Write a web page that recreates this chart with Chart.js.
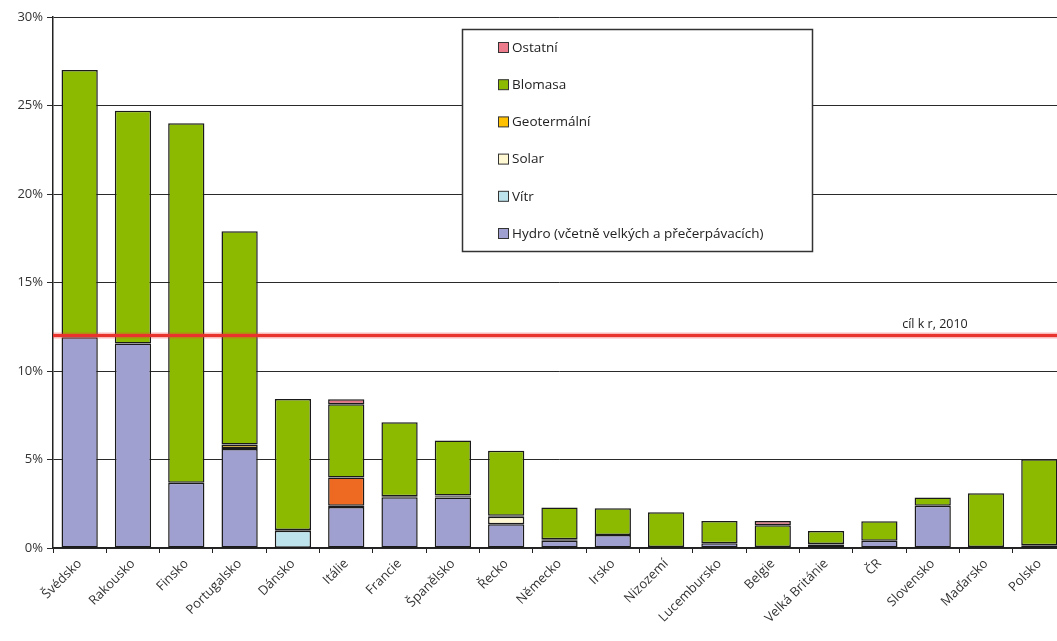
<!DOCTYPE html>
<html lang="cs">
<head>
<meta charset="UTF-8">
<title>Podíl obnovitelných zdrojů</title>
<script src="https://cdn.jsdelivr.net/npm/chart.js"></script>
<style>
  html, body { margin: 0; padding: 0; overflow: hidden; background: #fff; }
  #wrap { width: 1070px; height: 641px; }
</style>
</head>
<body>
<div id="wrap"><canvas id="oze" width="1070" height="641"></canvas></div>
<script>
// data (% podíl)
const countries = ['Švédsko', 'Rakousko', 'Finsko', 'Portugalsko', 'Dánsko', 'Itálie', 'Francie',
  'Španělsko', 'Řecko', 'Německo', 'Irsko', 'Nizozemí', 'Lucembursko', 'Belgie',
  'Velká Británie', 'ČR', 'Slovensko', 'Maďarsko', 'Polsko'];
const hydro   = [11.9, 11.55, 3.68, 5.6, 0.02, 2.32, 2.87, 2.85, 1.34, 0.41, 0.73, 0.05, 0.27, 0.05, 0.2, 0.41, 2.38, 0.05, 0.15];
const vitr    = [0, 0, 0, 0.05, 0.95, 0, 0, 0, 0, 0.08, 0, 0, 0, 0, 0, 0, 0, 0, 0];
const solar   = [0, 0, 0, 0, 0, 0.06, 0, 0.04, 0.43, 0, 0, 0, 0, 0, 0.03, 0, 0, 0, 0];
const geo     = [0, 0, 0, 0.2, 0.05, 1.6, 0.06, 0.08, 0.05, 0, 0, 0, 0, 0, 0, 0, 0, 0, 0];
const biomasa = [15.1, 13.15, 20.32, 12.05, 7.4, 4.14, 4.17, 3.1, 3.68, 1.8, 1.52, 1.97, 1.26, 1.23, 0.73, 1.1, 0.47, 3.04, 4.87];
const ostatni = [0, 0, 0, 0, 0, 0.28, 0, 0, 0, 0, 0, 0, 0, 0.25, 0, 0, 0, 0, 0];
const yTicks  = [0, 5, 10, 15, 20, 25, 30];
const target = 12;
const targetLabel = 'cíl k r, 2010';

const FONT = '"Open Sans", "Noto Sans", sans-serif';

// Itálie má geotermální segment oranžově
const geoColors = countries.map(c => c === 'Itálie' ? '#ee6a22' : '#ffc000');

function ds(label, data, color, legendColor) {
  return {
    label: label,
    data: data,
    backgroundColor: color,
    legendColor: legendColor || color,
    borderColor: '#1a1a1a',
    borderWidth: 1.5,
    borderSkipped: false,
    categoryPercentage: 1,
    barPercentage: 0.68
  };
}

const targetLine = {
  id: 'targetLine',
  afterDatasetsDraw(chart) {
    const ctx = chart.ctx;
    const y = chart.scales.y.getPixelForValue(target);
    const x0 = chart.chartArea.left;
    const x1 = chart.width;
    ctx.save();
    ctx.strokeStyle = 'rgba(235,60,55,0.35)';
    ctx.lineWidth = 6;
    ctx.beginPath(); ctx.moveTo(x0, y); ctx.lineTo(x1, y); ctx.stroke();
    ctx.strokeStyle = '#e8342c';
    ctx.lineWidth = 3;
    ctx.beginPath(); ctx.moveTo(x0, y); ctx.lineTo(x1, y); ctx.stroke();
    ctx.fillStyle = '#222';
    ctx.font = '12.5px ' + FONT;
    ctx.textAlign = 'center';
    ctx.textBaseline = 'bottom';
    ctx.fillText(targetLabel, 935, y - 5);
    ctx.restore();
  }
};

const boxLegend = {
  id: 'boxLegend',
  afterDraw(chart) {
    const ctx = chart.ctx;
    const bx = 462.5, by = 29.5, bw = 350, bh = 222;
    ctx.save();
    ctx.fillStyle = '#fff';
    ctx.fillRect(bx, by, bw, bh);
    ctx.strokeStyle = '#333';
    ctx.lineWidth = 1.5;
    ctx.strokeRect(bx, by, bw, bh);
    const items = chart.data.datasets.slice().reverse();
    ctx.font = '13.5px ' + FONT;
    ctx.textBaseline = 'middle';
    ctx.lineWidth = 1;
    items.forEach((d, i) => {
      const cy = 48 + i * 37.2;
      ctx.fillStyle = d.legendColor;
      ctx.fillRect(498.5, cy - 5.5, 10, 10);
      ctx.strokeStyle = '#333';
      ctx.strokeRect(498.5, cy - 5.5, 10, 10);
      ctx.fillStyle = '#222';
      ctx.fillText(d.label, 512, cy);
    });
    ctx.restore();
  }
};

new Chart(document.getElementById('oze'), {
  type: 'bar',
  data: {
    labels: countries,
    datasets: [
      ds('Hydro (včetně velkých a přečerpávacích)', hydro, '#a0a0d0'),
      ds('Vítr', vitr, '#bde3ec'),
      ds('Solar', solar, '#fff8d2'),
      ds('Geotermální', geo, geoColors, '#ffc000'),
      ds('Blomasa', biomasa, '#8bba00'),
      ds('Ostatní', ostatni, '#e0707f', '#ec7c8c')
    ]
  },
  options: {
    responsive: false,
    animation: false,
    layout: { padding: { left: 0, right: 4, top: 17, bottom: 0 } },
    plugins: { legend: { display: false }, tooltip: { enabled: false } },
    scales: {
      x: {
        stacked: true,
        grid: { drawOnChartArea: false, drawTicks: true, tickLength: 5, color: '#222', offset: true },
        border: { color: '#222', width: 1.5 },
        ticks: {
          autoSkip: false, minRotation: 45, maxRotation: 45,
          color: '#333', font: { family: FONT, size: 13 }, padding: 3
        },
        afterFit(scale) { scale.height = 93; }
      },
      y: {
        stacked: true,
        min: 0, max: 30,
        afterBuildTicks(scale) { scale.ticks = yTicks.map(v => ({ value: v })); },
        grid: { color: '#2a2a2a', lineWidth: 1, tickLength: 6 },
        border: { color: '#222', width: 1.5 },
        ticks: {
          color: '#333', font: { family: FONT, size: 13 }, padding: 4,
          callback: v => v + '%'
        },
        afterFit(scale) { scale.width = 53; }
      }
    }
  },
  plugins: [targetLine, boxLegend]
});
</script>
</body>
</html>
